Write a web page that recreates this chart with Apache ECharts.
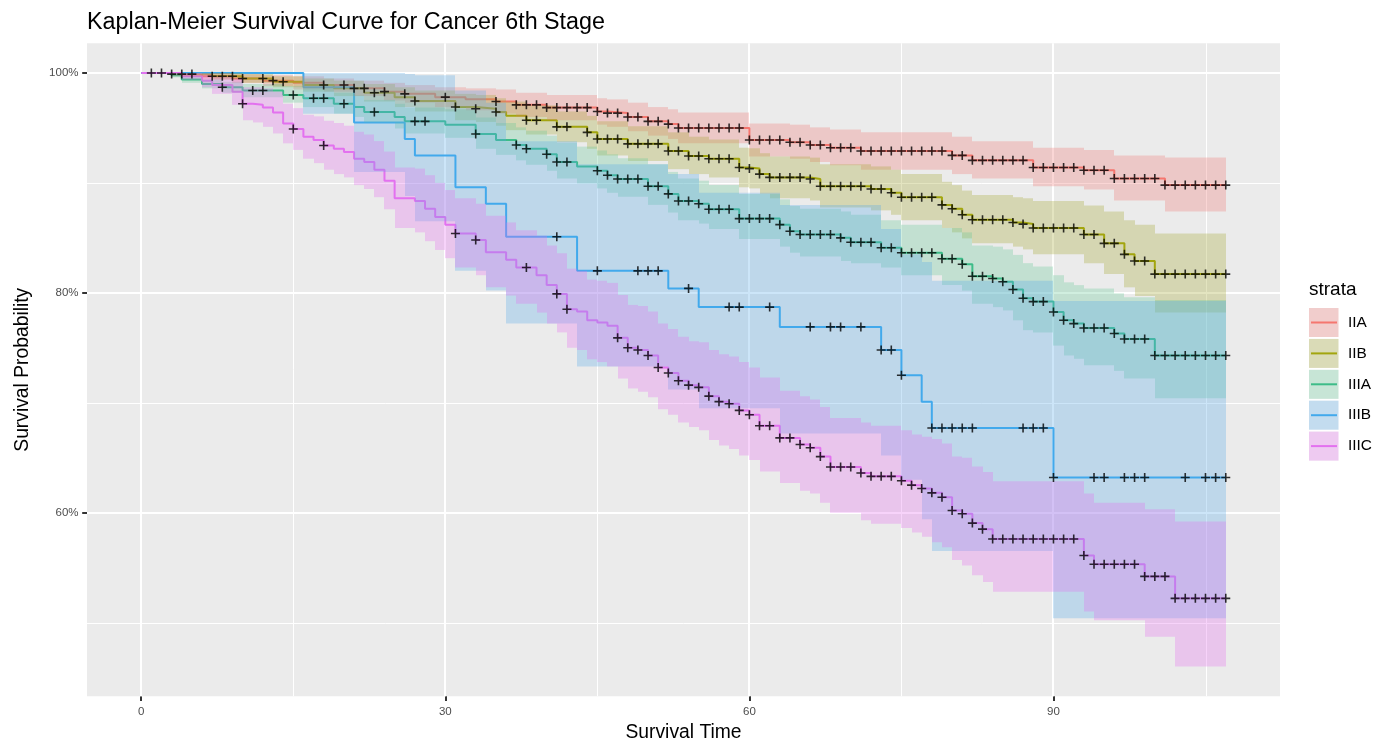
<!DOCTYPE html>
<html><head><meta charset="utf-8">
<script src="https://cdn.jsdelivr.net/npm/echarts@6/dist/echarts.min.js"></script>
<style>html,body{margin:0;padding:0;background:#fff}#chart{width:1375px;height:742px}</style>
</head><body><div id="chart"></div>
<script>
// ---------------- data ----------------
const strataNames = ['IIA', 'IIB', 'IIIA', 'IIIB', 'IIIC'];
const xTicks = [0, 30, 60, 90];
const xMinorGrid = [15, 45, 75, 105];
const yTicks = [60, 80, 100];
const yMinorGrid = [50, 70, 90];

const iia_time  = [0,3,6,9,12,15,18,21,24,26,29,32,35,37,40,45,46,48,50,52,53,60,64,66,68,71,80,82,88,93,96,101,107];
const iia_surv  = [100,99.9,99.7,99.5,99.3,99.1,98.9,98.6,98.3,98.1,97.8,97.6,97.4,97.1,96.85,96.5,96.35,96.0,95.6,95.35,95.0,93.9,93.7,93.45,93.2,92.9,92.5,92.05,91.4,91.15,90.4,89.8,89.8];
const iia_upper = [100,100,100,99.9,99.8,99.7,99.5,99.3,99.1,98.9,98.7,98.6,98.5,98.2,98.0,97.7,97.6,97.3,96.9,96.7,96.4,95.4,95.3,95.05,94.85,94.6,94.2,93.8,93.2,93.0,92.5,92.3,92.3];
const iia_lower = [100,99.7,99.4,99.1,98.8,98.5,98.3,97.9,97.5,97.3,96.9,96.6,96.3,96.0,95.7,95.3,95.1,94.7,94.3,94.0,93.6,92.4,92.2,91.9,91.6,91.2,90.8,90.4,89.7,89.4,88.4,87.4,87.4];
const iia_censor = [1,2,3,5,8,10,13,18,20,22,24,26,30,35,37,38,39,40,41,42,43,44,45,46,47,48,49,50,51,52,53,54,55,56,57,58,59,60,61,62,63,64,65,66,67,68,69,70,71,72,73,74,75,76,77,78,79,80,81,82,83,84,85,86,87,88,89,90,91,92,93,94,95,96,97,98,99,100,101,102,103,104,105,106,107];

const iib_time  = [0,4,7,10,13,16,19,22,25,27,31,33,35,36,38,41,44,45,48,52,54,56,59,60,61,62,66,67,72,74,75,79,80,81,82,86,87,88,93,95,97,98,100,107];
const iib_surv  = [100,99.9,99.7,99.5,99.2,98.9,98.6,98.2,97.8,97.45,96.9,96.75,96.45,96.1,95.7,95.1,94.6,94.0,93.55,92.9,92.45,92.2,91.4,91.3,90.8,90.5,90.35,89.7,89.45,89.1,88.7,88.0,87.65,87.1,86.65,86.4,86.25,85.9,85.3,84.5,83.5,82.9,81.7,81.7];
const iib_upper = [100,100,100,99.9,99.7,99.5,99.3,99.0,98.7,98.4,98.1,98.0,97.7,97.4,97.05,96.5,96.1,95.6,95.15,94.6,94.2,93.95,93.2,93.15,92.7,92.4,92.3,91.7,91.5,91.2,90.8,90.1,89.8,89.3,88.9,88.7,88.6,88.35,87.95,87.4,86.6,86.2,85.4,85.4];
const iib_lower = [100,99.7,99.4,99.1,98.7,98.3,97.9,97.4,96.9,96.5,95.7,95.55,95.2,94.8,94.4,93.7,93.1,92.5,92.0,91.25,90.8,90.5,89.6,89.5,89.0,88.6,88.4,87.75,87.5,87.1,86.6,85.9,85.5,84.95,84.5,84.2,83.95,83.5,82.7,81.7,80.5,79.7,78.2,78.2];
const iib_censor = [4,7,9,12,14,21,23,27,31,33,35,38,39,41,42,44,45,46,47,48,49,50,51,52,53,54,55,56,57,58,59,60,61,62,63,64,65,66,67,68,69,70,71,72,73,74,75,76,77,78,79,80,81,82,83,84,85,86,87,88,89,90,91,92,93,94,95,96,97,98,99,100,101,102,103,104,105,106,107];

const iiia_time  = [0,3,4,6,8,10,14,16,19,21,22,25,26,30,33,35,37,38,40,41,43,45,46,47,50,52,53,55,56,59,63,64,65,69,70,73,75,79,81,82,84,85,86,87,88,90,91,92,93,96,97,100,107];
const iiia_surv  = [100,99.8,99.4,99.0,98.7,98.4,98.0,97.7,97.2,96.9,96.45,96.0,95.6,95.3,94.45,93.9,93.45,93.1,92.6,91.9,91.5,91.1,90.7,90.35,89.7,89.0,88.35,88.1,87.6,86.75,86.2,85.6,85.3,85.0,84.6,84.1,83.65,83.1,82.6,81.5,81.3,81.0,80.3,79.5,79.2,78.25,77.5,77.2,76.8,76.3,75.8,74.3,74.3];
const iiia_upper = [100,100,99.7,99.4,99.2,99.0,98.8,98.6,98.2,97.95,97.55,97.2,96.85,96.7,95.95,95.45,95.05,94.75,94.3,93.65,93.3,92.95,92.6,92.25,91.7,91.0,90.4,90.2,89.8,89.0,88.5,87.9,87.65,87.4,87.1,86.6,86.2,85.9,85.5,84.3,84.2,83.95,83.45,82.7,82.4,81.6,80.95,80.7,80.4,79.95,79.6,79.35,79.35];
const iiia_lower = [100,99.6,99.1,98.6,98.2,97.8,97.3,96.9,96.3,96.0,95.5,94.95,94.5,94.1,93.1,92.55,92.05,91.65,91.1,90.4,89.95,89.5,89.1,88.75,88.0,87.3,86.6,86.3,85.8,84.9,84.2,83.65,83.3,82.9,82.7,82.3,81.6,80.7,80.2,79.0,78.7,78.4,77.5,76.6,76.4,75.2,74.3,74.0,73.4,72.9,72.2,70.4,70.4];
const iiia_censor = [8,11,12,15,17,18,20,23,27,28,33,37,38,40,41,42,45,46,47,48,49,50,51,52,53,54,55,56,57,58,59,60,61,62,63,64,65,66,67,68,69,70,71,72,73,74,75,76,77,78,79,80,81,82,83,84,85,86,87,88,89,90,91,92,93,94,95,96,97,98,99,100,101,102,103,104,105,106,107];

const iiib_time  = [0,16,21,26,27,31,34,36,43,52,55,63,73,75,77,78,90,107];
const iiib_surv  = [100,98.7,95.5,94.0,92.5,89.6,88.1,85.1,82.0,80.4,78.7,76.9,74.8,72.5,70.1,67.7,63.2,63.2];
const iiib_upper = [100,100,100,99.9,99.8,98.4,97.3,93.8,91.7,90.8,89.1,88.0,85.8,83.5,82.8,81.1,79.25,79.25];
const iiib_lower = [100,96.3,91.0,88.8,86.5,82.0,80.2,77.2,73.3,71.2,69.5,67.2,65.2,63.0,59.4,56.5,50.4,50.4];
const iiib_censor = [41,45,49,50,51,54,58,59,62,66,68,69,71,73,74,75,78,79,80,81,82,87,88,89,90,94,95,97,98,99,103,105,106,107];

const iiic_time  = [0,4,6,7,9,10,11,12,13,14,15,16,17,18,19,20,21,22,23,24,25,27,28,29,30,31,33,34,36,37,39,40,41,42,43,44,45,46,47,48,49,50,51,52,53,54,55,56,57,58,59,60,61,63,65,66,67,68,71,72,75,76,77,78,79,80,81,82,83,84,93,94,99,102,107];
const iiic_surv  = [100,99.7,99.3,98.9,98.3,97.2,97.1,96.85,96.4,95.4,94.9,94.2,93.9,93.4,93.1,92.8,92.2,91.9,91.2,90.2,88.6,88.35,87.65,86.9,86.2,85.4,84.8,83.7,83.0,82.3,81.6,80.7,79.9,78.5,78.3,77.5,77.3,77.0,75.9,75.0,74.8,74.3,73.2,72.7,72.0,71.6,71.4,70.6,70.1,69.9,69.3,68.9,67.9,66.8,66.2,65.9,65.1,64.15,63.6,63.3,62.9,62.5,62.2,61.8,61.4,60.2,59.9,59.05,58.5,57.6,56.1,55.3,54.2,52.2,52.2];
const iiic_upper = [100,100,99.9,99.7,99.5,98.7,98.7,98.6,98.3,97.2,96.8,96.2,96.05,95.65,95.45,95.2,94.65,94.4,93.8,92.85,91.4,91.3,90.7,90.0,89.35,88.6,88.1,87.0,86.4,85.7,85.2,84.3,83.6,82.2,82.0,81.2,81.1,80.9,79.8,78.9,78.8,78.3,77.2,76.7,76.0,75.6,75.5,74.8,74.4,74.2,73.7,73.2,72.3,71.1,70.6,70.3,69.6,68.6,68.2,67.9,67.5,67.1,66.9,66.7,66.3,65.1,65.0,64.2,63.7,62.85,61.75,60.9,60.3,59.2,59.2];
const iiic_lower = [100,99.4,98.7,98.1,97.1,95.7,95.5,95.1,94.5,93.6,93.0,92.2,91.8,91.2,90.8,90.5,89.8,89.45,88.7,87.6,85.9,85.5,84.7,83.9,83.15,82.3,81.6,80.5,79.75,79.0,78.2,77.2,76.4,75.0,74.8,73.95,73.7,73.3,72.2,71.3,71.0,70.5,69.4,68.9,68.2,67.8,67.5,66.6,66.1,65.8,65.2,64.8,63.75,62.7,62.0,61.75,60.9,60.0,59.3,59.0,58.6,58.2,57.8,57.3,56.85,55.7,55.2,54.3,53.7,52.8,51.0,50.2,48.7,46.0,46.0];
const iiic_censor = [10,15,18,31,33,38,41,42,47,48,49,50,51,52,53,54,55,56,57,58,59,60,61,62,63,64,65,66,67,68,69,70,71,72,73,74,75,76,77,78,79,80,81,82,83,84,85,86,87,88,89,90,91,92,93,94,95,96,97,98,99,100,101,102,103,104,105,106,107];

// ---------------- styling ----------------
const FONT = 'Liberation Sans, Arial, Helvetica, sans-serif';
const COLORS = ['#F8766D', '#A3A500', '#2DB883', '#3AAAEE', '#E273F0'];
const FILLS = ['rgba(240,120,115,0.3)', 'rgba(163,165,45,0.3)', 'rgba(100,200,150,0.3)', 'rgba(85,168,232,0.3)', 'rgba(228,110,240,0.3)'];
const X_MIN = -5.35, X_MAX = 112.35, Y_MIN = 43.3, Y_MAX = 102.7;

const strata = [
  {time: iia_time,  surv: iia_surv,  upper: iia_upper,  lower: iia_lower,  censor: iia_censor},
  {time: iib_time,  surv: iib_surv,  upper: iib_upper,  lower: iib_lower,  censor: iib_censor},
  {time: iiia_time, surv: iiia_surv, upper: iiia_upper, lower: iiia_lower, censor: iiia_censor},
  {time: iiib_time, surv: iiib_surv, upper: iiib_upper, lower: iiib_lower, censor: iiib_censor},
  {time: iiic_time, surv: iiic_surv, upper: iiic_upper, lower: iiic_lower, censor: iiic_censor}
];

function survAt(s, t) {
  let v = s.surv[0];
  for (let i = 0; i < s.time.length; i++) {
    if (s.time[i] <= t) v = s.surv[i]; else break;
  }
  return v;
}

const PLUS = 'path://M37,0H53V37H90V53H53V90H37V53H0V37H37Z';

const series = [];

// grid lines (drawn under the data, like ggplot panel grid)
const gridData = [];
xTicks.forEach(v => gridData.push([v, 0, 1]));
xMinorGrid.forEach(v => gridData.push([v, 0, 0]));
yTicks.forEach(v => gridData.push([v, 1, 1]));
yMinorGrid.forEach(v => gridData.push([v, 1, 0]));
series.push({
  type: 'custom', silent: true, z: 1, data: gridData,
  renderItem: function (params, api) {
    const cs = params.coordSys;
    const v = api.value(0), isY = api.value(1), major = api.value(2);
    const w = major ? 2 : 1;
    if (!isY) {
      let x = api.coord([v, Y_MIN])[0];
      x = major ? Math.round(x) : Math.round(x) + 0.5;
      return {type: 'line', shape: {x1: x, y1: cs.y, x2: x, y2: cs.y + cs.height}, style: {stroke: '#FFFFFF', lineWidth: w}};
    } else {
      let y = api.coord([X_MIN, v])[1];
      y = major ? Math.round(y) : Math.round(y) + 0.5;
      return {type: 'line', shape: {x1: cs.x, y1: y, x2: cs.x + cs.width, y2: y}, style: {stroke: '#FFFFFF', lineWidth: w}};
    }
  }
});

// survival step lines
strata.forEach((s, k) => {
  series.push({
    name: strataNames[k], type: 'line', step: 'end', z: 2,
    symbol: 'none', showSymbol: false, silent: true,
    lineStyle: {color: COLORS[k], width: 2},
    data: s.time.map((t, i) => [t, s.surv[i]])
  });
});

// confidence bands (step ribbons)
strata.forEach((s, k) => {
  const d = [];
  for (let i = 0; i < s.time.length - 1; i++) d.push([s.time[i], s.time[i + 1], s.lower[i], s.upper[i]]);
  series.push({
    name: strataNames[k] + ' CI', type: 'custom', z: 3, silent: true,
    encode: {x: [0, 1], y: [2, 3]},
    data: d,
    renderItem: function (params, api) {
      const p0 = api.coord([api.value(0), api.value(3)]);
      const p1 = api.coord([api.value(1), api.value(2)]);
      const x0 = Math.round(p0[0]), x1 = Math.round(p1[0]);
      return {type: 'rect', shape: {x: x0, y: p0[1], width: x1 - x0, height: p1[1] - p0[1]},
        style: {fill: FILLS[k]}};
    }
  });
});

// censor marks
strata.forEach((s, k) => {
  series.push({
    name: strataNames[k] + ' censor', type: 'scatter', z: 4, silent: true,
    symbol: PLUS, symbolSize: 9,
    itemStyle: {color: '#000000'},
    data: s.censor.map(t => [t, survAt(s, t)])
  });
});

// legend drawn as ggplot-like keys
const graphics = [];
graphics.push({type: 'text', x: 1309, y: 290, style: {text: 'strata', fill: '#000', font: '19px ' + FONT, textVerticalAlign: 'middle', verticalAlign: 'middle'}});
strataNames.forEach((nm, k) => {
  const y0 = 308 + k * 30.9;
  const cy = y0 + 14.5;
  graphics.push({type: 'rect', shape: {x: 1309, y: y0, width: 29.5, height: 29}, style: {fill: '#F2F2F2'}});
  graphics.push({type: 'line', shape: {x1: 1311, y1: cy, x2: 1337, y2: cy}, style: {stroke: COLORS[k], lineWidth: 2}});
  graphics.push({type: 'rect', shape: {x: 1309, y: y0, width: 29.5, height: 29}, style: {fill: FILLS[k]}});
  graphics.push({type: 'text', x: 1348, y: cy, style: {text: nm, fill: '#000', font: '15.4px ' + FONT, textVerticalAlign: 'middle', verticalAlign: 'middle'}});
});

const option = {
  animation: false,
  backgroundColor: '#FFFFFF',
  textStyle: {fontFamily: FONT},
  title: {
    text: 'Kaplan-Meier Survival Curve for Cancer 6th Stage',
    left: 87, top: 11, padding: 0,
    textStyle: {fontSize: 23.3, fontWeight: 'normal', color: '#000', fontFamily: FONT}
  },
  grid: {left: 87, right: 95, top: 43.3, bottom: 45.8, show: true, backgroundColor: '#EBEBEB', borderWidth: 0,
    containLabel: false, outerBoundsMode: 'none'},
  xAxis: {
    type: 'value', min: X_MIN, max: X_MAX,
    axisLine: {show: false, onZero: false},
    splitLine: {show: false},
    axisTick: {show: true, customValues: xTicks, length: 4.8, lineStyle: {color: '#333333', width: 2}},
    axisLabel: {customValues: xTicks, margin: 10, color: '#4D4D4D', fontSize: 11.5, fontFamily: FONT},
    name: 'Survival Time', nameLocation: 'middle', nameGap: 27, nameMoveOverlap: false,
    nameTextStyle: {color: '#000', fontSize: 19.3, fontFamily: FONT}
  },
  yAxis: {
    type: 'value', min: Y_MIN, max: Y_MAX,
    axisLine: {show: false, onZero: false},
    splitLine: {show: false},
    axisTick: {show: true, customValues: yTicks, length: 4.8, lineStyle: {color: '#333333', width: 2}},
    axisLabel: {customValues: yTicks, margin: 8.5, color: '#4D4D4D', fontSize: 11.5, fontFamily: FONT, formatter: '{value}%'},
    name: 'Survival Probability', nameLocation: 'middle', nameGap: 55, nameMoveOverlap: false,
    nameTextStyle: {color: '#000', fontSize: 19.3, fontFamily: FONT}
  },
  graphic: graphics,
  series: series
};

const chart = echarts.init(document.getElementById('chart'), null, {renderer: 'canvas'});
chart.setOption(option);
</script>
</body></html>
